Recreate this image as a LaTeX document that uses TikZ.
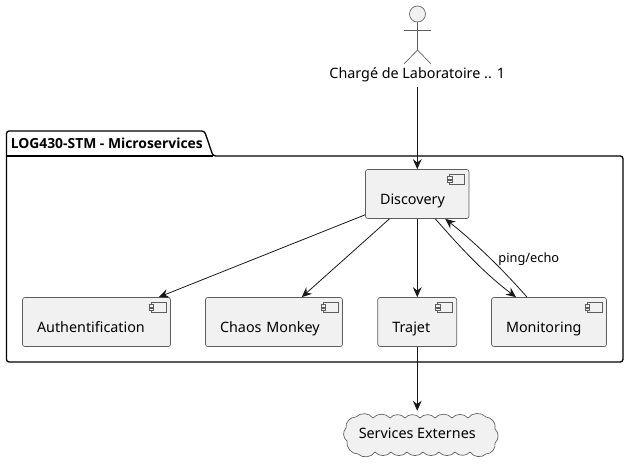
\documentclass[tikz,border=0pt]{standalone}
\usepackage{fontspec}
\setmainfont{Noto Sans}
\newfontfamily\titlefont{Open Sans}
\usetikzlibrary{arrows.meta, calc}
\definecolor{umlline}{RGB}{24, 24, 24}
\definecolor{umlfill}{RGB}{241, 241, 241}

\begin{document}
\begin{tikzpicture}[x=0.75pt, y=-0.75pt, font=\fontsize{10.75pt}{12pt}\selectfont,
    >={Stealth[length=7.5pt, width=6.6pt, inset=2.6pt]},
    comp/.style={
        draw=umlline!70, line width=0.5pt, fill=umlfill, rounded corners=1.8pt,
        inner xsep=10.9pt, inner ysep=0pt, align=left, text width=#1,
        text height=26.2pt, text depth=10.6pt, text=black
    },
    icon/.style={draw=umlline!70, line width=0.5pt, fill=umlfill},
    cloudline/.style={draw=umlline!70, line width=0.5pt, fill=umlfill},
    pack/.style={draw=black, line width=1pt, rounded corners=2pt},
    signal/.style={->, line width=0.6pt, umlline},
    actorline/.style={draw=umlline!70, line width=0.5pt},
    tlab/.style={font=\fontsize{9.6pt}{12pt}\selectfont, inner sep=0pt},
]
\useasboundingbox (0,0) rectangle (629,466);

% ================= package =================
\draw[pack] (100,131) -- (204.5,131) -- (213,156) -- (623,156) -- (623,362)
    -- (6.5,362) -- (6.5,131) -- cycle;
\draw[pack] (6.5,156) -- (213,156);
\node[font=\fontsize{10.4pt}{12pt}\titlefont\bfseries, anchor=west, inner sep=0pt] (title) at (10.5,143.5)
    {LOG430-STM - Microservices};

% ================= actor =================
\node[circle, actorline, fill=umlfill, minimum size=12pt, inner sep=0pt] (head) at (417.5,14) {};
\coordinate (hip) at (417.5,50);
\coordinate (handl) at (404,30);
\coordinate (handr) at (431,30);
\coordinate (footl) at (404,64);
\coordinate (footr) at (431,64);
\draw[actorline] (head.south) -- (hip);
\draw[actorline] (handl) -- (handr);
\draw[actorline] (footl) -- (hip) -- (footr);
\node[inner sep=0pt, minimum height=17pt] (actor) at (417.25,75) {Chargé de Laboratoire .. 1};

% ================= components =================
\node[comp=55.8pt] (Discovery) at (417.25,194) {Discovery};
\node[comp=89.2pt] (Auth) at (96.5,322) {Authentification};
\node[comp=80.9pt] (Chaos) at (274,322) {Chaos Monkey};
\node[comp=37.4pt] (Trajet) at (417.25,322) {Trajet};
\node[comp=64.4pt] (Monitoring) at (549,322) {Monitoring};
\foreach \c in {Discovery,Auth,Chaos,Trajet,Monitoring}{
    \draw[icon] ($(\c.north east)+(-19.5,5)$) rectangle ($(\c.north east)+(-4.5,15)$);
    \draw[icon] ($(\c.north east)+(-21.7,7.5)$) rectangle ($(\c.north east)+(-17.2,10)$);
    \draw[icon] ($(\c.north east)+(-21.7,11)$) rectangle ($(\c.north east)+(-17.2,13.5)$);
}

% ================= cloud =================
\draw[cloudline] (356,417)
    \foreach \x/\y in {373/418,390/418,405/418,420/418,435/418,452/418,468/418,486/417,
                    495/429,495/443,486/454,470/452,455/452,439/452,423/452,407/452,
                    391/452,375/452,358/454,347/441,346/428,356/417}{
        to[bend left=50] (\x,\y)
    } -- cycle;
\node[inner sep=0pt, minimum height=33.75pt] (Externes) at (417.25,433.5) {Services Externes};

% ================= connectors =================
\draw[signal] (actor.south) -- (Discovery.north);
\draw[signal] (Discovery) -- (Auth);
\draw[signal] (Discovery) -- (Chaos);
\draw[signal] (Discovery) -- (Trajet);
\draw[signal] ([xshift=13.5pt]Discovery.south) .. controls (455,241) and (480,270) .. ([xshift=-24.75pt]Monitoring.north);
\draw[signal] ([xshift=-16.5pt]Monitoring.north) .. controls (505,272) and (478,245) .. ([xshift=21pt]Discovery.south);
\node[tlab, anchor=west] (ping) at (498.2,259.5) {ping/echo};
\draw[signal] (Trajet.south) -- (Externes.north);

\end{tikzpicture}
\end{document}
